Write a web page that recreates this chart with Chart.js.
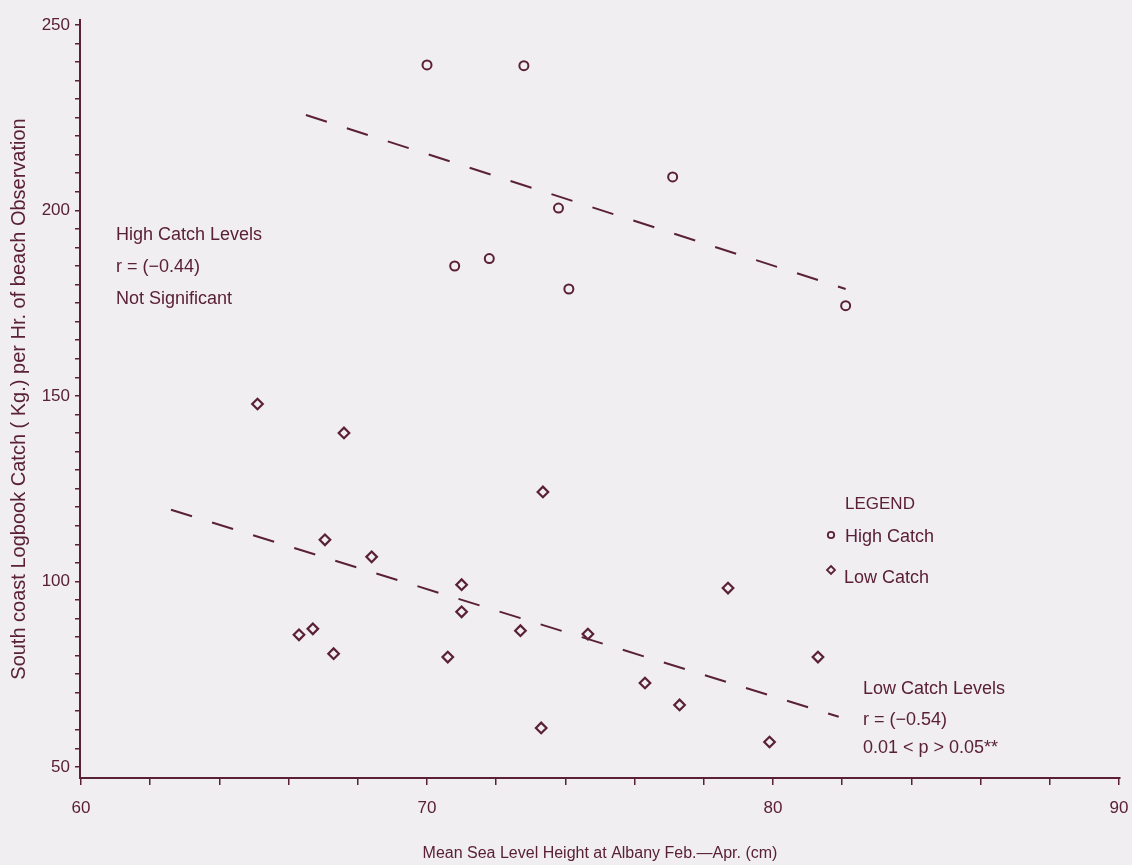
<!DOCTYPE html>
<html>
<head>
<meta charset="utf-8">
<script src="https://cdn.jsdelivr.net/npm/chart.js@4.4.1/dist/chart.umd.min.js"></script>
<style>
  html, body { margin: 0; padding: 0; background: #f0eef1; }
  #wrap { width: 1132px; height: 865px; position: relative; }
</style>
</head>
<body>
<div id="wrap"><canvas id="c" width="1132" height="865"></canvas></div>
<script>
// ---- Data ----
const highCatchX = [70.0, 72.8, 77.1, 73.8, 70.8, 71.8, 74.1, 82.1];
const highCatchY = [239.2, 239.0, 209.0, 200.6, 185.0, 187.0, 178.8, 174.3];

const lowCatchX = [65.1, 67.6, 73.35, 67.05, 68.4, 71.0, 71.0, 66.3, 66.7, 67.3, 70.6, 72.7, 74.65, 76.3, 77.3, 73.3, 78.7, 81.3, 79.9];
const lowCatchY = [147.8, 140.0, 124.1, 111.2, 106.6, 99.1, 91.8, 85.6, 87.2, 80.5, 79.6, 86.7, 85.8, 72.6, 66.7, 60.5, 98.2, 79.6, 56.7];

const highFitX = [66.5, 82.1];
const highFitY = [225.7, 178.8];
const lowFitX = [62.6, 81.9];
const lowFitY = [119.3, 63.5];

const xTickLabels = [60, 70, 80, 90];
const yTickLabels = [50, 100, 150, 200, 250];
const xMinorStep = 2;
const yMinorStep = 5;

const xTitle = 'Mean Sea Level Height at Albany Feb.\u2014Apr. (cm)';
const yTitle = 'South coast Logbook Catch ( Kg.) per Hr. of beach Observation';

const highNote = ['High Catch Levels', 'r = (\u22120.44)', 'Not Significant'];
const lowNote = ['Low Catch Levels', 'r = (\u22120.54)', '0.01 < p > 0.05**'];
const legendTitle = 'LEGEND';
const legendItems = ['High Catch', 'Low Catch'];

// ---- Styling ----
const INK = '#5a2036';
const BG = '#f0eef1';
const FONT = '"Liberation Sans", Arial, Helvetica, sans-serif';

const toPts = (xs, ys) => xs.map((x, i) => ({ x: x, y: ys[i] }));

function range(a, b, s) { const r = []; for (let v = a; v <= b + 1e-9; v += s) r.push(Math.round(v * 100) / 100); return r; }

const annotations = {
  id: 'annotations',
  afterDatasetsDraw(chart) {
    const ctx = chart.ctx;
    ctx.save();
    ctx.fillStyle = INK;
    ctx.strokeStyle = INK;
    ctx.font = '18px ' + FONT;
    ctx.textBaseline = 'middle';
    ctx.textAlign = 'left';
    // High catch note
    const hy = [235, 267, 299];
    highNote.forEach((t, i) => ctx.fillText(t, 116, hy[i]));
    // Low catch note
    const ly = [689, 720, 748];
    lowNote.forEach((t, i) => ctx.fillText(t, 863, ly[i]));
    // Legend
    ctx.font = '17px ' + FONT;
    ctx.fillText(legendTitle, 845, 504);
    ctx.font = '18px ' + FONT;
    ctx.fillText(legendItems[0], 845, 537);
    ctx.fillText(legendItems[1], 844, 578);
    ctx.lineWidth = 1.8;
    ctx.beginPath(); ctx.arc(831, 535, 3.2, 0, Math.PI * 2); ctx.stroke();
    ctx.beginPath();
    ctx.moveTo(831, 566); ctx.lineTo(835, 570); ctx.lineTo(831, 574); ctx.lineTo(827, 570); ctx.closePath(); ctx.stroke();
    ctx.restore();
  }
};

const bgPlugin = {
  id: 'bg',
  beforeDraw(chart) {
    const ctx = chart.ctx;
    ctx.save(); ctx.fillStyle = BG; ctx.fillRect(0, 0, chart.width, chart.height); ctx.restore();
  }
};

new Chart(document.getElementById('c'), {
  type: 'scatter',
  data: {
    datasets: [
      {
        label: legendItems[0],
        data: toPts(highCatchX, highCatchY),
        pointStyle: 'circle',
        pointRadius: 4.5,
        pointBorderWidth: 2,
        borderColor: INK,
        backgroundColor: BG
      },
      {
        label: legendItems[1],
        data: toPts(lowCatchX, lowCatchY),
        pointStyle: 'rectRot',
        pointRadius: 5.3,
        pointBorderWidth: 2.2,
        borderColor: INK,
        backgroundColor: BG
      },
      {
        type: 'line',
        label: 'High fit',
        data: toPts(highFitX, highFitY),
        borderColor: INK,
        borderWidth: 2,
        borderDash: [22, 21],
        pointRadius: 0,
        fill: false
      },
      {
        type: 'line',
        label: 'Low fit',
        data: toPts(lowFitX, lowFitY),
        borderColor: INK,
        borderWidth: 2,
        borderDash: [22, 21],
        pointRadius: 0,
        fill: false
      }
    ]
  },
  options: {
    responsive: false,
    animation: false,
    layout: { padding: { top: 20, right: 12, left: 0, bottom: 0 } },
    plugins: {
      legend: { display: false },
      tooltip: { enabled: false }
    },
    scales: {
      x: {
        type: 'linear',
        min: 59.97,
        max: 90.03,
        afterBuildTicks(scale) { scale.ticks = range(60, 90, xMinorStep).map(v => ({ value: v })); },
        afterFit(scale) { scale.height = 87; scale.paddingRight = 0; scale.paddingLeft = 0; },
        border: { display: true, color: INK, width: 2 },
        grid: { display: true, drawOnChartArea: false, drawTicks: true, tickLength: 7, color: INK, lineWidth: 1.5 },
        ticks: {
          color: INK,
          font: { family: FONT, size: 17 },
          padding: 13,
          maxRotation: 0,
          autoSkip: false,
          callback: (v) => xTickLabels.includes(Math.round(v)) && Math.abs(v - Math.round(v)) < 1e-6 ? String(Math.round(v)) : ''
        },
        title: {
          display: true,
          text: xTitle,
          color: INK,
          font: { family: FONT, size: 16 },
          padding: { top: 0, bottom: 2 }
        }
      },
      y: {
        type: 'linear',
        min: 47,
        max: 251.3,
        afterBuildTicks(scale) { scale.ticks = range(50, 250, yMinorStep).map(v => ({ value: v })); },
        afterFit(scale) { scale.width = 80; },
        border: { display: true, color: INK, width: 2 },
        grid: { display: true, drawOnChartArea: false, drawTicks: true, tickLength: 5, color: INK, lineWidth: 1.5 },
        ticks: {
          color: INK,
          font: { family: FONT, size: 17 },
          padding: 5,
          autoSkip: false,
          callback: (v) => yTickLabels.includes(Math.round(v)) && Math.abs(v - Math.round(v)) < 1e-6 ? String(Math.round(v)) : ''
        },
        title: {
          display: true,
          text: yTitle,
          color: INK,
          font: { family: FONT, size: 20 },
          padding: { top: 7, bottom: 0 }
        }
      }
    }
  },
  plugins: [bgPlugin, annotations]
});
</script>
</body>
</html>
